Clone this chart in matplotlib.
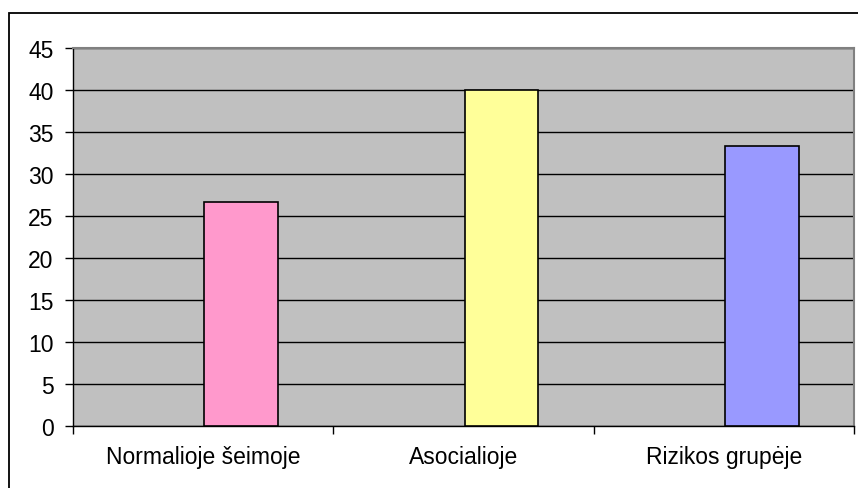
import numpy as np
import matplotlib.pyplot as plt
from matplotlib.patches import Rectangle

categories = ['Normalioje šeimoje', 'Asocialioje', 'Rizikos grupėje']
values = [26.7, 40.0, 33.3]
colors = ['#FF99CC', '#FFFF99', '#9999FF']

plt.rcParams['font.family'] = ['Liberation Sans', 'DejaVu Sans']

W, H = 858, 489
fig = plt.figure(figsize=(W / 100, H / 100), dpi=100)

# chart area frame (cropped on right and bottom)
fig.patches.append(Rectangle((9 / W, -0.1), 1.2, 1.1 - 14 / H,
                             transform=fig.transFigure, fill=False,
                             edgecolor='black', linewidth=1.3))

ax = fig.add_axes([73 / W, 1 - 427 / H, (854 - 73) / W, (427 - 49) / H])
ax.set_facecolor('#C0C0C0')

x = np.arange(len(categories)) + 0.5
offset = 0.146
ax.bar(x + offset, values, width=0.284, color=colors,
       edgecolor='black', linewidth=1.2, zorder=3)

ax.set_xlim(0, 3)
ax.set_ylim(0, 45)
ax.set_yticks(np.arange(0, 46, 5))
ax.yaxis.grid(True, color='black', linewidth=1.0, zorder=1)
ax.set_axisbelow(True)

ax.set_xticks([0, 1, 2, 3])
ax.set_xticklabels([])
ax.set_xticks(x, minor=True)
ax.set_xticklabels(categories, minor=True)
ax.tick_params(axis='x', which='minor', length=0, pad=14, labelsize=16.5)
ax.tick_params(axis='x', which='major', length=6, width=1, direction='out')
ax.tick_params(axis='y', length=6, width=1, direction='out', pad=8, labelsize=16.5)

for s in ['top', 'right']:
    ax.spines[s].set_color('#808080')
    ax.spines[s].set_linewidth(1.5)
for s in ['left', 'bottom']:
    ax.spines[s].set_color('black')
    ax.spines[s].set_linewidth(1.0)

fig.savefig('out.png', dpi=100)
